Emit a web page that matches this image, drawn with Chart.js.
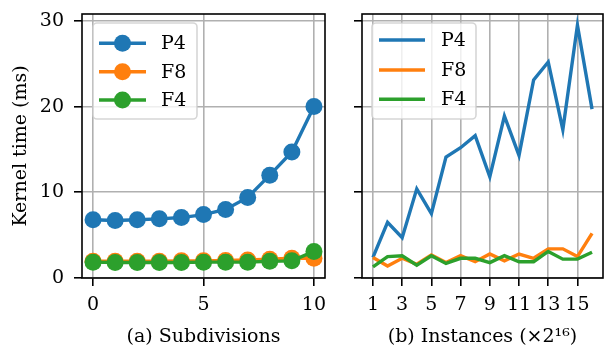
<!DOCTYPE html>
<html>
<head>
<meta charset="utf-8">
<script src="https://cdn.jsdelivr.net/npm/chart.js@4.4.1/dist/chart.umd.min.js"></script>
<style>
  html, body { margin: 0; padding: 0; background: #fff; }
  #left { position: absolute; left: 0; top: 0; }
  #right { position: absolute; left: 340px; top: 0; }
</style>
</head>
<body>
<canvas id="left" width="340" height="349"></canvas>
<canvas id="right" width="264" height="349"></canvas>
<script>
// data
const subdivisions = [0, 1, 2, 3, 4, 5, 6, 7, 8, 9, 10];
const p4Sub = [6.8, 6.7, 6.8, 6.9, 7.05, 7.4, 8.0, 9.4, 12.0, 14.7, 20.0];
const f8Sub = [1.95, 1.95, 1.95, 1.95, 2.0, 2.0, 2.05, 2.1, 2.2, 2.3, 2.3];
const f4Sub = [1.85, 1.8, 1.8, 1.8, 1.8, 1.85, 1.85, 1.85, 1.95, 2.0, 3.1];

const instances = [1, 2, 3, 4, 5, 6, 7, 8, 9, 10, 11, 12, 13, 14, 15, 16];
const p4Inst = [2.4, 6.5, 4.7, 10.4, 7.5, 14.1, 15.2, 16.6, 11.8, 18.9, 14.3, 23.1, 25.2, 17.3, 29.5, 19.7];
const f8Inst = [2.4, 1.4, 2.3, 1.6, 2.7, 1.8, 2.6, 1.9, 2.8, 2.0, 2.8, 2.3, 3.4, 3.4, 2.5, 5.2];
const f4Inst = [1.3, 2.5, 2.6, 1.5, 2.6, 1.7, 2.3, 2.3, 1.8, 2.6, 1.9, 1.9, 3.1, 2.2, 2.2, 3.0];

const yTicks = [0, 10, 20, 30];
const subTicks = [0, 5, 10];
const instTicks = [1, 3, 5, 7, 9, 11, 13, 15];

const seriesNames = ['P4', 'F8', 'F4'];
const colors = ['#1f77b4', '#ff7f0e', '#2ca02c'];

const FONT = 'DejaVu Serif';
const FS = 19;
Chart.defaults.font.family = FONT;
Chart.defaults.font.size = FS;
Chart.defaults.color = '#000';

// full box round the plot area, like matplotlib spines
const frame = {
  id: 'frame',
  afterDraw(chart) {
    const a = chart.chartArea, ctx = chart.ctx;
    ctx.save();
    ctx.strokeStyle = '#000';
    ctx.lineWidth = 1.6;
    ctx.strokeRect(a.left, a.top, a.right - a.left, a.bottom - a.top);
    ctx.restore();
  }
};

// legend box drawn inside the plot
const boxLegend = {
  id: 'boxLegend',
  afterDraw(chart, args, opts) {
    const ctx = chart.ctx;
    ctx.save();
    ctx.globalAlpha = 0.8;
    ctx.fillStyle = '#fff';
    ctx.strokeStyle = '#cccccc';
    ctx.lineWidth = 1.6;
    ctx.beginPath();
    ctx.roundRect(opts.x, opts.y, opts.w, opts.h, 4);
    ctx.fill();
    ctx.stroke();
    ctx.globalAlpha = 1;
    chart.data.datasets.forEach((ds, i) => {
      const y = opts.rows[i];
      ctx.strokeStyle = ds.borderColor;
      ctx.lineWidth = ds.borderWidth;
      ctx.beginPath();
      ctx.moveTo(opts.lineX0, y);
      ctx.lineTo(opts.lineX1, y);
      ctx.stroke();
      if (opts.marker) {
        ctx.fillStyle = ds.borderColor;
        ctx.beginPath();
        ctx.arc((opts.lineX0 + opts.lineX1) / 2, y, ds.pointRadius, 0, Math.PI * 2);
        ctx.fill();
      }
      ctx.fillStyle = '#000';
      ctx.font = FS + 'px "' + FONT + '"';
      ctx.textBaseline = 'middle';
      ctx.fillText(ds.label, opts.textX, y + 1);
    });
    ctx.restore();
  }
};

function makeDatasets(xs, series, marker) {
  return series.map((vals, i) => ({
    label: seriesNames[i],
    data: xs.map((x, j) => ({ x: x, y: vals[j] })),
    borderColor: colors[i],
    backgroundColor: colors[i],
    borderWidth: 3.4,
    pointRadius: marker ? 8.5 : 0,
    pointHoverRadius: marker ? 8.5 : 0,
    pointBorderWidth: 0,
    order: 3 - i,
    tension: 0
  }));
}

function gridOpts() {
  return { color: '#b0b0b0', lineWidth: 1.6, tickColor: '#000', tickWidth: 1.6, tickLength: 8 };
}

// keep the plot area fixed: no extra room for overhanging labels
function fixWidth(w) {
  return s => { s.width = w; s.paddingTop = 0; s.paddingBottom = 0; };
}
function fixHeight(h) {
  return s => { s.height = h; s.paddingLeft = 0; s.paddingRight = 0; };
}

// left: subdivisions
new Chart(document.getElementById('left'), {
  type: 'line',
  data: { datasets: makeDatasets(subdivisions, [p4Sub, f8Sub, f4Sub], true) },
  options: {
    responsive: false,
    animation: false,
    devicePixelRatio: 1,
    layout: { padding: { top: 14, right: 15, bottom: 0, left: 0 } },
    plugins: {
      legend: { display: false },
      tooltip: { enabled: false },
      boxLegend: {
        x: 93, y: 23, w: 104, h: 96,
        lineX0: 99, lineX1: 146, textX: 161, marker: true,
        rows: [43.3, 71.7, 100]
      }
    },
    scales: {
      x: {
        type: 'linear', min: -0.5, max: 10.5,
        grid: gridOpts(),
        border: { display: false },
        ticks: { padding: 8 },
        afterBuildTicks: s => { s.ticks = subTicks.map(v => ({ value: v })); },
        afterFit: fixHeight(71),
        title: { display: true, text: '(a) Subdivisions', padding: { top: 0, bottom: 1 } }
      },
      y: {
        type: 'linear', min: 0, max: 30.8,
        grid: gridOpts(),
        border: { display: false },
        ticks: { padding: 10 },
        afterBuildTicks: s => { s.ticks = yTicks.map(v => ({ value: v })); },
        afterFit: fixWidth(82),
        title: { display: true, text: 'Kernel time (ms)', padding: { top: 10, bottom: 0 } }
      }
    }
  },
  plugins: [frame, boxLegend]
});

// right: instances
new Chart(document.getElementById('right'), {
  type: 'line',
  data: { datasets: makeDatasets(instances, [p4Inst, f8Inst, f4Inst], false) },
  options: {
    responsive: false,
    animation: false,
    devicePixelRatio: 1,
    layout: { padding: { top: 14, right: 1, bottom: 0, left: 0 } },
    plugins: {
      legend: { display: false },
      tooltip: { enabled: false },
      boxLegend: {
        x: 32, y: 23, w: 104, h: 96,
        lineX0: 39, lineX1: 85, textX: 101, marker: false,
        rows: [40, 70, 99.3]
      }
    },
    scales: {
      x: {
        type: 'linear', min: 0.25, max: 16.75,
        grid: gridOpts(),
        border: { display: false },
        ticks: { padding: 8 },
        afterBuildTicks: s => { s.ticks = instTicks.map(v => ({ value: v })); },
        afterFit: fixHeight(71),
        title: { display: true, text: '(b) Instances (×2¹⁶)', padding: { top: 0, bottom: 1 } }
      },
      y: {
        type: 'linear', min: 0, max: 30.8,
        grid: gridOpts(),
        border: { display: false },
        ticks: { display: false },
        afterBuildTicks: s => { s.ticks = yTicks.map(v => ({ value: v })); },
        afterFit: fixWidth(22)
      }
    }
  },
  plugins: [frame, boxLegend]
});
</script>
</body>
</html>
